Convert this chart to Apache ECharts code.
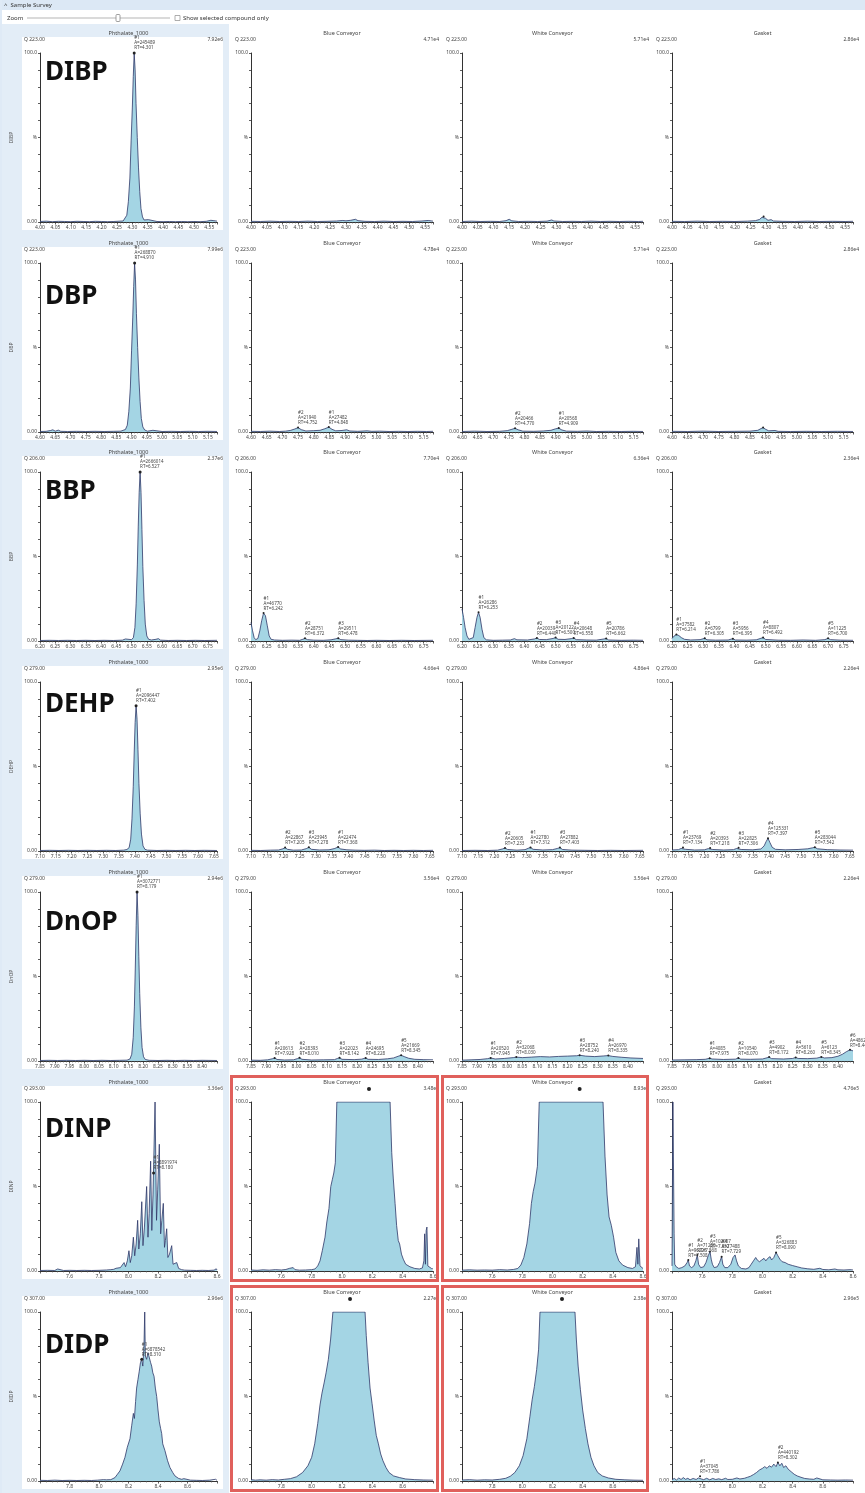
<!DOCTYPE html>
<html><head><meta charset="utf-8">
<script src="https://cdn.jsdelivr.net/npm/echarts@6/dist/echarts.min.js"></script>
<style>html,body{margin:0;padding:0;background:#fff}#c{width:865px;height:1493px}</style>
</head><body><div id="c"></div>
<script>
// ---------- categories / labels ----------
const ROWS = ['DIBP','DBP','BBP','DEHP','DnOP','DINP','DIDP'];
const COLS = ['Phthalate_1000','Blue Conveyor','White Conveyor','Gasket'];
const QIONS = ['Q 223.00','Q 223.00','Q 206.00','Q 279.00','Q 279.00','Q 293.00','Q 307.00'];
const INTENS = [
 ['7.92e6','4.71e4','5.71e4','2.86e4'],
 ['7.99e6','4.78e4','5.71e4','2.86e4'],
 ['2.37e6','7.70e4','6.36e4','2.36e4'],
 ['2.95e6','4.66e4','4.86e4','2.26e4'],
 ['2.94e6','3.56e4','3.56e4','2.26e4'],
 ['3.36e6','3.48e6','8.93e6','4.76e5'],
 ['2.96e6','2.27e6','2.38e6','2.96e5']
];
// x-axis (retention time) ranges and tick steps per row
const XMIN  = [4.00, 4.60, 6.20, 7.10, 7.85, 7.4, 7.6];
const XMAX  = [4.575,5.18, 6.78, 7.66, 8.45, 8.6, 8.8];
const XSTEP = [0.05, 0.05, 0.05, 0.05, 0.05, 0.2, 0.2];

// ---------- traces [RT, %] ----------
const DIBP_STD = [[4.000,0.3],[4.020,0.5],[4.040,0.2],[4.060,0.4],[4.080,0.3],[4.100,0.2],[4.120,0.4],[4.140,0.3],[4.160,0.2],[4.180,0.4],[4.200,0.3],[4.220,0.2],[4.240,0.3],[4.260,0.5],[4.270,0.6],[4.276,1.5],[4.282,4],[4.287,12],[4.292,26],[4.296,48],[4.300,68],[4.303,86],[4.306,100],[4.309,90],[4.312,70],[4.316,50],[4.320,32],[4.324,18],[4.328,8],[4.333,3],[4.338,1.2],[4.344,0.6],[4.352,1.4],[4.357,0.5],[4.380,0.3],[4.400,0.2],[4.420,0.3],[4.440,0.2],[4.460,0.3],[4.480,0.2],[4.500,0.3],[4.520,0.2],[4.540,0.4],[4.555,1.0],[4.565,0.8],[4.575,0.5]];
const DIBP_BLUE = [[4.000,0.4],[4.030,0.3],[4.060,0.5],[4.090,0.3],[4.120,0.4],[4.150,0.3],[4.180,0.5],[4.210,0.3],[4.240,0.4],[4.270,0.6],[4.290,0.9],[4.300,0.7],[4.315,1.0],[4.330,1.6],[4.338,0.8],[4.360,0.4],[4.390,0.3],[4.420,0.5],[4.450,0.3],[4.480,0.4],[4.510,0.3],[4.540,0.6],[4.560,0.9],[4.575,0.5]];
const DIBP_WHITE = [[4.000,0.3],[4.030,0.5],[4.060,0.3],[4.090,0.4],[4.120,0.3],[4.140,0.8],[4.150,1.6],[4.158,0.7],[4.180,0.3],[4.210,0.4],[4.240,0.3],[4.270,0.5],[4.285,1.2],[4.292,0.6],[4.320,0.3],[4.350,0.4],[4.380,0.3],[4.410,0.5],[4.440,0.3],[4.470,0.4],[4.500,0.3],[4.530,0.4],[4.560,0.3],[4.575,0.4]];
const DIBP_GASKET = [[4.000,0.4],[4.040,0.3],[4.080,0.5],[4.120,0.3],[4.160,0.4],[4.200,0.3],[4.240,0.5],[4.265,0.8],[4.278,1.5],[4.286,2.8],[4.291,3.2],[4.297,2.2],[4.305,1.0],[4.315,1.4],[4.322,0.6],[4.350,0.4],[4.390,0.3],[4.430,0.5],[4.470,0.3],[4.510,0.4],[4.550,0.3],[4.575,0.4]];

const DBP_STD = [[4.600,0.3],[4.620,0.4],[4.635,0.9],[4.642,1.3],[4.650,0.5],[4.660,1.1],[4.668,0.4],[4.690,0.3],[4.720,0.4],[4.750,0.3],[4.780,0.4],[4.810,0.3],[4.840,0.4],[4.865,0.5],[4.880,1.5],[4.886,4],[4.891,12],[4.896,26],[4.900,48],[4.904,68],[4.907,86],[4.910,100],[4.913,90],[4.916,70],[4.920,50],[4.924,32],[4.928,18],[4.932,8],[4.937,3],[4.943,1.2],[4.952,0.5],[4.970,1.0],[4.976,0.4],[5.000,0.3],[5.030,0.4],[5.060,0.3],[5.090,0.4],[5.120,0.3],[5.150,0.4],[5.180,0.3]];
const DBP_BLUE = [[4.600,0.4],[4.630,0.3],[4.660,0.5],[4.690,0.3],[4.710,0.5],[4.725,0.9],[4.740,1.8],[4.750,2.6],[4.760,1.4],[4.775,0.6],[4.800,0.8],[4.820,1.0],[4.835,1.9],[4.848,2.9],[4.858,1.6],[4.870,0.7],[4.890,0.9],[4.905,1.3],[4.915,0.6],[4.940,0.4],[4.970,0.7],[4.985,0.4],[5.010,0.5],[5.040,0.3],[5.070,0.4],[5.100,0.3],[5.130,0.4],[5.160,0.3],[5.180,0.4]];
const DBP_WHITE = [[4.600,0.3],[4.640,0.5],[4.680,0.3],[4.720,0.4],[4.745,0.8],[4.760,1.6],[4.770,2.2],[4.780,1.3],[4.795,0.5],[4.830,0.4],[4.860,0.6],[4.885,1.0],[4.900,1.9],[4.910,2.3],[4.920,1.2],[4.935,0.5],[4.970,0.4],[5.000,0.6],[5.030,0.3],[5.070,0.4],[5.110,0.3],[5.150,0.4],[5.180,0.3]];
const DBP_GASKET = [[4.600,0.4],[4.650,0.3],[4.700,0.5],[4.750,0.3],[4.800,0.4],[4.850,0.5],[4.875,1.0],[4.885,2.0],[4.892,2.6],[4.900,1.6],[4.910,0.7],[4.930,0.9],[4.940,0.4],[4.980,0.3],[5.030,0.4],[5.080,0.3],[5.130,0.4],[5.180,0.3]];

const BBP_STD = [[6.200,0.3],[6.230,0.4],[6.260,0.3],[6.290,0.4],[6.320,0.3],[6.350,0.4],[6.380,0.3],[6.410,0.4],[6.440,0.3],[6.470,0.5],[6.480,1.2],[6.486,0.5],[6.500,0.8],[6.506,2],[6.511,8],[6.515,22],[6.519,45],[6.522,68],[6.525,88],[6.528,100],[6.531,88],[6.534,66],[6.537,44],[6.541,24],[6.545,10],[6.550,3],[6.556,1.0],[6.565,0.6],[6.580,1.0],[6.588,1.4],[6.595,0.5],[6.620,0.3],[6.650,0.4],[6.680,0.3],[6.710,0.4],[6.740,0.3],[6.780,0.4]];
const BBP_BLUE = [[6.200,11],[6.205,6],[6.210,2],[6.215,0.8],[6.222,1.5],[6.228,6],[6.234,12],[6.240,16.5],[6.246,15],[6.252,9],[6.258,3],[6.264,1],[6.275,0.6],[6.300,0.4],[6.330,0.5],[6.355,0.4],[6.365,1.0],[6.372,1.6],[6.380,0.8],[6.400,0.5],[6.430,0.4],[6.455,0.7],[6.470,1.3],[6.478,1.7],[6.486,0.8],[6.510,0.5],[6.540,0.4],[6.570,0.3],[6.600,0.4],[6.640,0.3],[6.680,0.4],[6.720,0.3],[6.780,0.4]];
const BBP_WHITE = [[6.200,19],[6.205,14],[6.210,8],[6.216,3],[6.222,1],[6.228,0.8],[6.236,2],[6.242,8],[6.248,14],[6.253,17],[6.258,14],[6.264,7],[6.270,2],[6.278,0.7],[6.300,0.4],[6.330,0.5],[6.355,0.6],[6.368,1.4],[6.376,0.7],[6.410,0.6],[6.432,1.2],[6.440,1.8],[6.448,0.9],[6.470,0.8],[6.492,1.5],[6.500,2.0],[6.508,1.0],[6.530,0.9],[6.550,1.4],[6.558,1.8],[6.566,0.8],[6.600,0.6],[6.630,0.5],[6.655,1.2],[6.662,1.5],[6.670,0.6],[6.710,0.4],[6.750,0.5],[6.780,0.4]];
const BBP_GASKET = [[6.200,1.5],[6.206,2.8],[6.214,3.8],[6.222,3.2],[6.230,2.0],[6.240,1.0],[6.260,0.6],[6.290,0.8],[6.305,1.6],[6.312,0.7],[6.340,0.5],[6.380,0.6],[6.395,1.4],[6.403,0.6],[6.440,0.5],[6.470,0.7],[6.485,1.6],[6.492,2.0],[6.500,0.9],[6.540,0.5],[6.580,0.4],[6.620,0.6],[6.660,0.4],[6.690,0.8],[6.700,1.6],[6.708,0.8],[6.740,0.5],[6.780,0.4]];

const DEHP_STD = [[7.100,0.3],[7.130,0.4],[7.160,0.3],[7.190,0.4],[7.220,0.3],[7.250,0.4],[7.280,0.3],[7.310,0.4],[7.340,0.3],[7.365,0.5],[7.375,0.9],[7.382,2],[7.387,7],[7.391,19],[7.395,38],[7.398,58],[7.401,76],[7.404,86],[7.407,78],[7.410,60],[7.413,40],[7.417,22],[7.421,10],[7.426,3],[7.432,1.0],[7.440,0.5],[7.470,0.3],[7.500,0.4],[7.530,0.3],[7.560,0.4],[7.590,0.3],[7.620,0.4],[7.660,0.3]];
const DEHP_BLUE = [[7.100,0.4],[7.130,0.3],[7.160,0.5],[7.185,0.6],[7.198,1.3],[7.205,2.0],[7.212,1.0],[7.230,0.5],[7.255,0.6],[7.270,1.4],[7.278,2.2],[7.286,1.0],[7.310,0.6],[7.340,0.7],[7.358,1.5],[7.368,2.4],[7.376,1.2],[7.395,0.7],[7.420,0.5],[7.450,0.4],[7.480,0.5],[7.510,0.3],[7.540,0.4],[7.570,0.3],[7.600,0.4],[7.630,0.3],[7.660,0.4]];
const DEHP_WHITE = [[7.100,0.3],[7.140,0.4],[7.180,0.3],[7.210,0.5],[7.225,1.2],[7.233,1.8],[7.241,0.9],[7.270,0.5],[7.295,0.8],[7.305,1.6],[7.312,2.1],[7.320,1.0],[7.350,0.6],[7.380,0.8],[7.395,1.5],[7.403,2.0],[7.411,0.9],[7.440,0.5],[7.480,0.4],[7.520,0.3],[7.560,0.4],[7.600,0.3],[7.660,0.4]];
const DEHP_GASKET = [[7.100,0.6],[7.120,0.8],[7.128,1.5],[7.134,2.0],[7.142,1.0],[7.170,0.6],[7.200,0.7],[7.212,1.4],[7.218,1.8],[7.226,0.9],[7.260,0.6],[7.290,0.8],[7.300,1.5],[7.306,1.9],[7.314,0.9],[7.350,0.7],[7.375,1.2],[7.385,3.0],[7.391,5.5],[7.397,7.5],[7.403,5.0],[7.410,2.2],[7.420,1.0],[7.450,0.7],[7.490,0.9],[7.520,1.3],[7.535,1.9],[7.542,2.2],[7.550,1.3],[7.580,0.8],[7.620,0.6],[7.660,0.5]];

const DNOP_STD = [[7.850,0.3],[7.880,0.4],[7.910,0.3],[7.940,0.4],[7.970,0.3],[8.000,0.4],[8.030,0.3],[8.060,0.4],[8.090,0.3],[8.120,0.4],[8.145,0.5],[8.155,1.2],[8.161,4],[8.166,14],[8.170,32],[8.173,55],[8.176,80],[8.179,100],[8.182,86],[8.185,62],[8.188,40],[8.192,20],[8.196,8],[8.201,2.5],[8.207,0.9],[8.220,0.4],[8.250,0.3],[8.280,0.4],[8.310,0.3],[8.340,0.4],[8.370,0.3],[8.400,0.4],[8.450,0.3]];
const DNOP_BLUE = [[7.850,0.5],[7.880,0.4],[7.905,0.7],[7.920,1.3],[7.928,1.8],[7.936,0.9],[7.960,0.6],[7.990,0.7],[8.003,1.4],[8.010,1.9],[8.018,1.0],[8.050,0.6],[8.090,0.7],[8.125,0.8],[8.135,1.5],[8.142,1.9],[8.150,1.0],[8.190,0.8],[8.215,1.1],[8.228,1.8],[8.236,1.0],[8.270,0.9],[8.300,1.3],[8.320,1.8],[8.335,2.8],[8.345,3.4],[8.355,2.6],[8.370,1.6],[8.390,1.0],[8.420,0.8],[8.450,0.7]];
const DNOP_WHITE = [[7.850,0.5],[7.880,0.7],[7.910,0.9],[7.935,1.4],[7.945,1.8],[7.960,1.2],[7.990,1.5],[8.020,2.0],[8.030,2.3],[8.050,2.0],[8.080,2.3],[8.110,2.6],[8.140,2.4],[8.170,2.7],[8.200,2.9],[8.230,3.1],[8.240,3.4],[8.260,2.9],[8.290,2.6],[8.320,3.0],[8.335,3.2],[8.350,2.7],[8.380,2.2],[8.410,1.8],[8.450,1.5]];
const DNOP_GASKET = [[7.850,0.6],[7.890,0.7],[7.930,0.8],[7.960,1.0],[7.975,1.6],[7.983,1.2],[8.020,0.9],[8.060,1.1],[8.070,1.8],[8.078,1.1],[8.110,1.0],[8.150,1.2],[8.165,1.9],[8.172,2.3],[8.180,1.4],[8.220,1.2],[8.250,1.5],[8.260,2.1],[8.268,1.5],[8.300,1.4],[8.330,1.7],[8.345,2.4],[8.355,1.8],[8.380,2.0],[8.400,2.8],[8.415,4.0],[8.428,5.5],[8.440,6.6],[8.450,6.0]];

const DINP_STD = [[7.400,0.3],[7.450,0.4],[7.500,0.3],[7.520,1.2],[7.526,0.4],[7.560,0.3],[7.600,0.4],[7.650,0.3],[7.700,0.4],[7.750,0.3],[7.800,0.4],[7.850,0.6],[7.880,0.8],[7.900,1.0],[7.915,1.6],[7.925,1.0],[7.945,2.0],[7.955,1.5],[7.970,5],[7.980,2.5],[7.992,6],[8.003,12],[8.012,5],[8.022,9],[8.033,20],[8.042,9],[8.052,16],[8.062,30],[8.070,13],[8.080,22],[8.090,41],[8.098,15],[8.108,26],[8.123,50],[8.132,20],[8.140,34],[8.150,65],[8.158,24],[8.166,45],[8.180,100],[8.190,30],[8.198,48],[8.209,75],[8.218,22],[8.226,30],[8.236,40],[8.244,14],[8.250,18],[8.259,25],[8.267,8],[8.278,10],[8.293,15],[8.302,4],[8.315,4.5],[8.327,5],[8.340,1.5],[8.360,0.8],[8.380,0.5],[8.420,0.4],[8.460,0.3],[8.500,0.4],[8.540,0.3],[8.580,0.5],[8.595,1.3],[8.600,0.6]];
const DINP_BLUE = [[7.400,0.6],[7.440,0.4],[7.480,0.7],[7.520,0.5],[7.560,0.8],[7.600,0.6],[7.630,0.9],[7.655,1.6],[7.668,2.6],[7.678,2.0],[7.690,0.8],[7.720,0.5],[7.760,0.6],[7.800,0.8],[7.822,1.2],[7.840,3],[7.855,6],[7.870,12],[7.888,20],[7.900,29],[7.914,37],[7.926,50],[7.936,54],[7.946,58],[7.956,64],[7.966,100],[8.317,100],[8.328,70],[8.338,55],[8.350,40],[8.360,27],[8.371,18],[8.380,16],[8.392,10],[8.404,7],[8.420,4],[8.448,2.5],[8.480,1.5],[8.510,1.2],[8.530,1.8],[8.540,6],[8.545,22],[8.550,4],[8.555,24],[8.560,26],[8.566,3],[8.575,2],[8.590,1.5],[8.600,1.2]];
const DINP_WHITE = [[7.400,0.5],[7.450,0.7],[7.500,0.5],[7.550,0.6],[7.600,0.5],[7.650,0.8],[7.700,0.6],[7.740,0.9],[7.770,1.5],[7.790,3.5],[7.810,8],[7.830,16],[7.848,28],[7.860,40],[7.872,47],[7.884,52],[7.900,62],[7.912,100],[8.335,100],[8.348,68],[8.362,45],[8.375,32],[8.390,27],[8.405,20],[8.420,11],[8.440,6],[8.465,3.5],[8.500,2],[8.530,1.5],[8.550,2.5],[8.560,14],[8.566,4],[8.572,19],[8.580,3],[8.600,1.5]];
const DINP_GASKET = [[7.400,3],[7.406,100],[7.410,100],[7.414,22],[7.418,4],[7.428,2.5],[7.445,1.5],[7.465,2],[7.485,3],[7.500,5],[7.508,6.5],[7.516,3],[7.530,2],[7.545,3],[7.558,6],[7.568,9.5],[7.576,4],[7.590,2],[7.610,2.5],[7.625,5],[7.640,9],[7.652,11.5],[7.660,7],[7.668,4],[7.680,2],[7.700,2.5],[7.715,5],[7.729,8.5],[7.737,4],[7.750,2],[7.770,2],[7.790,4],[7.805,8],[7.818,9.5],[7.828,6],[7.840,3],[7.860,1.5],[7.890,1.2],[7.910,2],[7.925,4],[7.940,6],[7.955,8],[7.965,6.5],[7.980,5.5],[7.995,6.5],[8.010,7.5],[8.022,6],[8.035,7.5],[8.050,8.5],[8.060,6.5],[8.075,8],[8.090,11],[8.102,9],[8.115,7],[8.130,5.5],[8.150,5],[8.170,4],[8.200,3.2],[8.230,2.5],[8.260,1.8],[8.300,1.3],[8.340,1.0],[8.380,1.6],[8.400,0.9],[8.440,0.7],[8.480,1.2],[8.500,0.7],[8.540,0.6],[8.580,0.8],[8.600,0.6]];

const DIDP_STD = [[7.600,0.4],[7.650,0.3],[7.700,0.5],[7.750,0.3],[7.800,0.4],[7.850,0.3],[7.900,0.4],[7.950,0.3],[7.990,0.5],[8.029,0.8],[8.040,1.6],[8.050,0.7],[8.080,0.8],[8.108,2],[8.125,4],[8.142,6],[8.160,10],[8.176,14],[8.192,20],[8.210,25],[8.222,33],[8.233,40],[8.240,37],[8.248,47],[8.255,55],[8.264,60],[8.273,65],[8.281,70],[8.289,72],[8.297,68],[8.305,80],[8.310,100],[8.314,74],[8.323,72],[8.332,76],[8.341,75],[8.350,70],[8.357,68],[8.365,64],[8.373,62],[8.382,55],[8.391,50],[8.400,42],[8.409,35],[8.418,31],[8.425,28],[8.432,22],[8.447,18],[8.465,12],[8.481,8],[8.500,5],[8.515,3],[8.540,1.5],[8.561,1.0],[8.575,1.4],[8.583,0.8],[8.620,0.5],[8.660,0.4],[8.700,0.3],[8.750,0.5],[8.790,1.0],[8.800,0.4]];
const DIDP_BLUE = [[7.600,0.8],[7.630,0.5],[7.660,0.7],[7.700,0.5],[7.740,0.8],[7.780,0.6],[7.820,1.0],[7.860,1.4],[7.900,2.5],[7.940,5],[7.975,9],[8.000,14],[8.020,22],[8.040,34],[8.055,45],[8.068,52],[8.082,58],[8.095,64],[8.110,72],[8.125,84],[8.140,100],[8.352,100],[8.360,86],[8.372,70],[8.385,55],[8.398,46],[8.412,36],[8.426,27],[8.440,22],[8.455,16],[8.470,12],[8.490,8],[8.510,5],[8.540,3],[8.580,2],[8.620,1.2],[8.680,0.8],[8.740,0.6],[8.800,0.5]];
const DIDP_WHITE = [[7.600,0.6],[7.650,0.8],[7.700,0.5],[7.750,0.7],[7.800,0.6],[7.850,1.0],[7.890,1.6],[7.920,2.8],[7.950,5],[7.980,9],[8.005,15],[8.030,25],[8.050,38],[8.065,48],[8.080,56],[8.095,66],[8.108,78],[8.117,100],[8.349,100],[8.358,84],[8.370,68],[8.385,54],[8.400,42],[8.418,31],[8.435,22],[8.455,14],[8.475,9],[8.500,5],[8.530,3],[8.570,1.8],[8.620,1.0],[8.680,0.7],[8.740,0.5],[8.800,0.4]];
const DIDP_GASKET = [[7.600,0.8],[7.615,1.5],[7.630,0.6],[7.645,1.8],[7.660,0.9],[7.675,2.0],[7.690,1.0],[7.705,1.6],[7.720,0.7],[7.740,1.5],[7.760,0.9],[7.775,1.8],[7.786,2.8],[7.795,1.2],[7.810,0.8],[7.830,1.6],[7.850,0.7],[7.870,1.5],[7.890,0.9],[7.910,1.3],[7.930,0.8],[7.955,1.6],[7.970,0.9],[8.000,1.0],[8.030,1.8],[8.050,1.2],[8.080,1.6],[8.100,2.2],[8.120,2.8],[8.140,3.8],[8.160,5],[8.180,6.5],[8.200,7.5],[8.215,8.5],[8.230,7.5],[8.245,9],[8.260,8.2],[8.275,10],[8.290,8.5],[8.302,11],[8.315,9],[8.328,10.5],[8.340,8],[8.355,9],[8.370,7],[8.390,5.5],[8.410,4],[8.430,3],[8.455,2.2],[8.480,1.5],[8.510,1.2],[8.540,1.0],[8.560,1.8],[8.570,0.9],[8.600,0.7],[8.650,0.6],[8.700,0.5],[8.750,0.6],[8.800,0.5]];

const TRACES = [
 [DIBP_STD, DIBP_BLUE, DIBP_WHITE, DIBP_GASKET],
 [DBP_STD, DBP_BLUE, DBP_WHITE, DBP_GASKET],
 [BBP_STD, BBP_BLUE, BBP_WHITE, BBP_GASKET],
 [DEHP_STD, DEHP_BLUE, DEHP_WHITE, DEHP_GASKET],
 [DNOP_STD, DNOP_BLUE, DNOP_WHITE, DNOP_GASKET],
 [DINP_STD, DINP_BLUE, DINP_WHITE, DINP_GASKET],
 [DIDP_STD, DIDP_BLUE, DIDP_WHITE, DIDP_GASKET]
];

// ---------- peak annotations [col, RT, %, text] ----------
const DIBP_NOTES = [[0,4.306,100,'#1\nA=245489\nRT=4.301'],[3,4.291,3.2,'']];
const DBP_NOTES = [[0,4.910,100,'#1\nA=268870\nRT=4.910'],[1,4.750,2.6,'#2\nA=21940\nRT=4.752'],[1,4.848,2.9,'#1\nA=27482\nRT=4.848'],[2,4.770,2.2,'#2\nA=20466\nRT=4.770'],[2,4.910,2.3,'#1\nA=20568\nRT=4.909'],[3,4.892,2.6,'']];
const BBP_NOTES = [[0,6.528,100,'#1\nA=2666014\nRT=6.527'],[1,6.240,16.5,'#1\nA=46770\nRT=6.242'],[1,6.372,1.6,'#2\nA=28751\nRT=6.372'],[1,6.478,1.7,'#3\nA=29511\nRT=6.478'],[2,6.253,17,'#1\nA=26286\nRT=6.253'],[2,6.440,1.8,'#2\nA=20039\nRT=6.440'],[2,6.500,2.0,'#3\nA=20122\nRT=6.500'],[2,6.558,1.8,'#4\nA=20648\nRT=6.558'],[2,6.662,1.5,'#5\nA=20786\nRT=6.662'],[3,6.214,3.8,'#1\nA=37582\nRT=6.214'],[3,6.305,1.6,'#2\nA=6799\nRT=6.305'],[3,6.395,1.4,'#3\nA=5956\nRT=6.395'],[3,6.492,2.0,'#4\nA=8807\nRT=6.492'],[3,6.700,1.6,'#5\nA=11225\nRT=6.700']];
const DEHP_NOTES = [[0,7.404,86,'#1\nA=2096447\nRT=7.402'],[1,7.205,2.0,'#2\nA=22867\nRT=7.205'],[1,7.278,2.2,'#3\nA=23945\nRT=7.278'],[1,7.368,2.4,'#1\nA=22474\nRT=7.368'],[2,7.233,1.8,'#2\nA=20605\nRT=7.233'],[2,7.312,2.1,'#1\nA=22780\nRT=7.312'],[2,7.403,2.0,'#3\nA=27882\nRT=7.403'],[3,7.134,2.0,'#1\nA=23769\nRT=7.134'],[3,7.218,1.8,'#2\nA=20393\nRT=7.218'],[3,7.306,1.9,'#3\nA=22825\nRT=7.306'],[3,7.397,7.5,'#4\nA=125331\nRT=7.397'],[3,7.542,2.2,'#5\nA=283044\nRT=7.542']];
const DNOP_NOTES = [[0,8.179,100,'#1\nA=3072771\nRT=8.179'],[1,7.928,1.8,'#1\nA=20613\nRT=7.928'],[1,8.010,1.9,'#2\nA=28393\nRT=8.010'],[1,8.142,1.9,'#3\nA=22023\nRT=8.142'],[1,8.228,1.8,'#4\nA=24695\nRT=8.228'],[1,8.345,3.4,'#5\nA=21669\nRT=8.345'],[2,7.945,1.8,'#1\nA=20520\nRT=7.945'],[2,8.030,2.3,'#2\nA=32068\nRT=8.030'],[2,8.240,3.4,'#3\nA=28752\nRT=8.240'],[2,8.335,3.2,'#4\nA=26970\nRT=8.335'],[3,7.975,1.6,'#1\nA=4085\nRT=7.975'],[3,8.070,1.8,'#2\nA=10540\nRT=8.070'],[3,8.172,2.3,'#3\nA=4902\nRT=8.172'],[3,8.260,2.1,'#4\nA=5610\nRT=8.260'],[3,8.345,2.4,'#5\nA=6123\nRT=8.345'],[3,8.440,6.6,'#6\nA=48624\nRT=8.440']];
const DINP_NOTES = [[0,8.170,58,'#1\nA=8891974\nRT=8.180'],[3,7.508,6.5,'#1\nA=96225\nRT=7.508'],[3,7.568,9.5,'#2\nA=71280\nRT=7.568'],[3,7.652,11.5,'#3\nA=102057\nRT=7.652'],[3,7.729,8.5,'#4\nA=77488\nRT=7.729'],[3,8.090,11,'#5\nA=326883\nRT=8.090']];
const DIDP_NOTES = [[0,8.290,72,'#1\nA=6878542\nRT=8.310'],[3,7.786,2.8,'#1\nA=37045\nRT=7.786'],[3,8.302,11,'#2\nA=440192\nRT=8.302']];
const NOTES = [DIBP_NOTES, DBP_NOTES, BBP_NOTES, DEHP_NOTES, DNOP_NOTES, DINP_NOTES, DIDP_NOTES];
// apex markers above saturated peaks [row, col, RT]
const DOTS = [[5,1,8.178],[5,2,8.180],[6,1,8.253],[6,2,8.263]];
// saturated panels outlined in red [row, col]
const RED_PANELS = [[5,1],[5,2],[6,1],[6,2]];

// ---------- layout ----------
const ROW_BASE = [27, 237, 446, 656, 866, 1076, 1286];
const COL_L = [40, 251, 462, 672], COL_R = [217, 433, 643, 853];
const PANEL_X = [[22,228],[230,438],[441,648],[651,861]];
const BIG_Y = [73, 297, 492, 705, 923, 1130, 1346];
const PLOT_TOP = 26, PLOT_H = 169;
const FONT = '"Noto Sans", "DejaVu Sans", sans-serif';

const grids = [], xAxes = [], yAxes = [], series = [], graphics = [];
// header
graphics.push({type:'rect', z:-20, shape:{x:0,y:0,width:865,height:10}, style:{fill:'#dce8f5'}});
graphics.push({type:'text', z:50, x:4, y:5, style:{text:'^  Sample Survey', font:'6px '+FONT, fill:'#333', align:'left', verticalAlign:'middle', textAlign:'left', textVerticalAlign:'middle'}});
graphics.push({type:'text', z:50, x:7, y:18, style:{text:'Zoom', font:'6px '+FONT, fill:'#333', align:'left', verticalAlign:'middle', textAlign:'left', textVerticalAlign:'middle'}});
graphics.push({type:'line', z:50, shape:{x1:27,y1:18,x2:170,y2:18}, style:{stroke:'#b5b5b5', lineWidth:1}});
graphics.push({type:'rect', z:51, shape:{x:116,y:14.5,width:4,height:7,r:1}, style:{fill:'#fff', stroke:'#888', lineWidth:0.8}});
graphics.push({type:'rect', z:51, shape:{x:175,y:15.5,width:5,height:5}, style:{fill:'#fff', stroke:'#999', lineWidth:0.8}});
graphics.push({type:'text', z:50, x:183, y:18, style:{text:'Show selected compound only', font:'6px '+FONT, fill:'#333', align:'left', verticalAlign:'middle', textAlign:'left', textVerticalAlign:'middle'}});
// first column light-blue frame
graphics.push({type:'rect', z:-20, shape:{x:0,y:24,width:229,height:1469}, style:{fill:'#e3edf7'}});
graphics.push({type:'rect', z:-20, shape:{x:0,y:0,width:2,height:1493}, style:{fill:'#dfeaf6'}});

ROWS.forEach((name, r) => {
  const base = ROW_BASE[r];
  graphics.push({type:'rect', z:-15, shape:{x:22,y:base+10,width:201,height:193}, style:{fill:'#ffffff'}});
  graphics.push({type:'text', z:60, x:45, y:BIG_Y[r], style:{text:name, font:'bold 26px '+FONT, fill:'#111', align:'left', verticalAlign:'middle', textAlign:'left', textVerticalAlign:'middle'}});
  COLS.forEach((title, c) => {
    const k = r*4 + c;
    const L = COL_L[c], R = COL_R[c];
    grids.push({left:L, width:R-L, top:base+PLOT_TOP, height:PLOT_H, containLabel:false});
    const dec = XSTEP[r] < 0.1 ? 2 : 1;
    xAxes.push({gridIndex:k, type:'value', min:XMIN[r], max:XMAX[r], interval:XSTEP[r],
      axisLine:{onZero:false, lineStyle:{color:'#333', width:1}},
      axisTick:{length:2.5, lineStyle:{color:'#333', width:0.8}},
      minorTick:{show:true, splitNumber:5, length:1.5, lineStyle:{color:'#555', width:0.6}},
      splitLine:{show:false},
      axisLabel:{fontSize:5, color:'#444', margin:3, fontFamily:FONT,
        showMinLabel: r < 5, showMaxLabel: r === 5,
        formatter: v => v.toFixed(dec)}});
    yAxes.push({gridIndex:k, type:'value', min:0, max:100, interval:10,
      axisLine:{show:true, lineStyle:{color:'#333', width:1}},
      axisTick:{show:true, length:2, lineStyle:{color:'#333', width:0.8}},
      splitLine:{show:false},
      name: c === 0 ? name : '', nameLocation:'middle', nameGap:26, nameRotate:90,
      nameTextStyle:{fontSize:5, color:'#555', fontFamily:FONT},
      axisLabel:{fontSize:5, color:'#444', margin:3, fontFamily:FONT,
        formatter: v => v === 100 ? '100.0' : (v === 50 ? '%' : (v === 0 ? '0.00' : ''))}});
    const mp = NOTES[r].filter(n => n[0] === c).map(n => ({
      coord:[n[1], n[2]], symbol:'circle', symbolSize: c === 0 ? 3 : 2,
      itemStyle:{color:'#222'},
      label:{show: n[3] !== '', formatter: n[3], position:'top', align:'left', distance:1,
        fontSize:4.5, lineHeight:5, color:'#444', fontFamily:FONT}
    }));
    DOTS.filter(d => d[0] === r && d[1] === c).forEach(d => mp.push({
      coord:[d[2], 100], symbol:'circle', symbolSize:4, symbolOffset:[0,-13],
      itemStyle:{color:'#222'}, label:{show:false}}));
    series.push({type:'line', xAxisIndex:k, yAxisIndex:k, data:TRACES[r][c],
      showSymbol:false, animation:false, clip:true, z:3,
      lineStyle:{color:'#2f3768', width:0.8},
      areaStyle:{color:'#a4d5e4', opacity:1},
      markPoint:{silent:true, animation:false, data:mp}});
    const cx = (L + R) / 2;
    graphics.push({type:'text', z:60, x:cx, y:base+6, style:{text:title, font:'5.5px '+FONT, fill:'#444', align:'center', verticalAlign:'middle', textAlign:'center', textVerticalAlign:'middle'}});
    graphics.push({type:'text', z:60, x:L-16, y:base+13, style:{text:QIONS[r], font:'5px '+FONT, fill:'#444', align:'left', verticalAlign:'middle', textAlign:'left', textVerticalAlign:'middle'}});
    graphics.push({type:'text', z:60, x:R+6, y:base+13, style:{text:INTENS[r][c], font:'5px '+FONT, fill:'#444', align:'right', verticalAlign:'middle', textAlign:'right', textVerticalAlign:'middle'}});
  });
});
RED_PANELS.forEach(([r, c]) => {
  const base = ROW_BASE[r];
  const x0 = PANEL_X[c][0], x1 = PANEL_X[c][1];
  graphics.push({type:'rect', z:80, shape:{x:x0+1.5, y:base+0.5, width:x1-x0-2, height:204}, style:{fill:'none', stroke:'#e0605c', lineWidth:3}});
});

const chart = echarts.init(document.getElementById('c'), null, {renderer:'canvas'});
chart.setOption({
  animation:false,
  backgroundColor:'#ffffff',
  textStyle:{fontFamily:FONT},
  grid:grids, xAxis:xAxes, yAxis:yAxes, series:series,
  graphic:{elements:graphics}
});
</script></body></html>
